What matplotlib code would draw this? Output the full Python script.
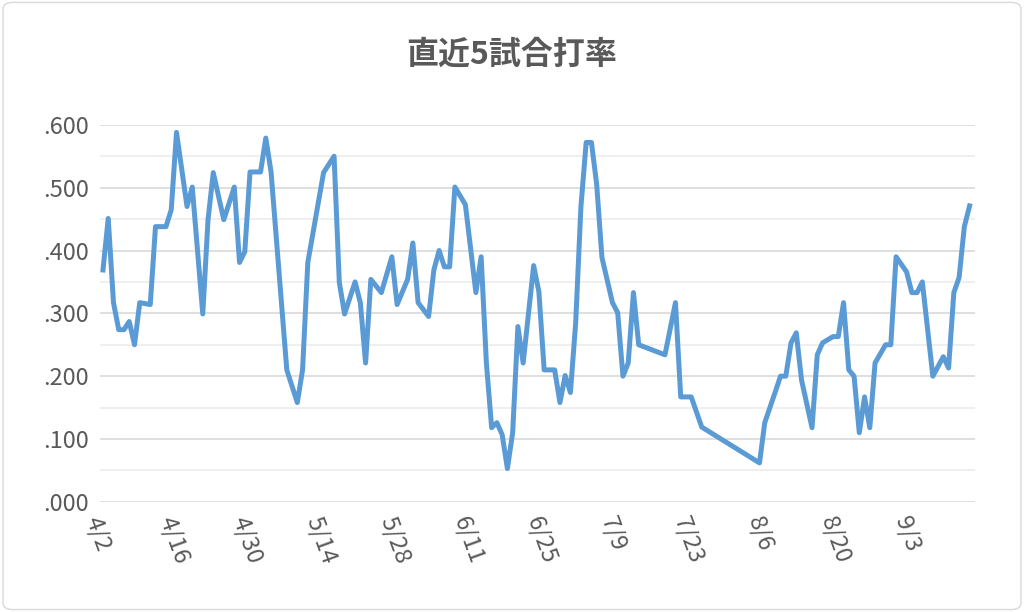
import matplotlib
matplotlib.use("Agg")
import matplotlib.pyplot as plt
import pandas as pd
from matplotlib.patches import FancyBboxPatch

plt.rcParams['font.family'] = ['Noto Sans CJK JP', 'DejaVu Sans']

start = pd.Timestamp('2018-04-02')
day_offsets = [0,1,2,3,4,5,6,7,9,10,12,13,14,16,17,19,20,21,23,25,26,27,28,30,31,32,35,37,38,39,
               42,44,45,46,48,49,50,51,53,55,56,58,59,60,62,63,64,65,66,67,69,71,72,73,74,75,76,77,
               78,79,80,82,83,84,86,87,88,89,90,91,92,93,94,95,97,98,99,100,101,102,107,109,110,112,
               114,125,126,128,129,130,131,132,133,135,136,137,139,140,141,142,143,144,145,146,147,
               149,150,151,153,154,155,156,158,160,161,162,163,164,165]
avg = [.369,.451,.317,.274,.274,.287,.250,.317,.314,.438,.438,.465,.588,.470,.501,.299,.449,.524,.449,.501,
       .381,.398,.525,.525,.579,.525,.210,.158,.210,.381,
       .524,.550,.349,.299,.350,.317,.221,.354,.333,.390,.314,.354,.412,.317,.295,.369,.400,.374,.374,.501,
       .473,.333,.390,.221,.118,.126,.107,.053,
       .110,.279,.221,.376,.334,.210,.210,.158,.201,.174,.285,.470,.572,.572,.505,.389,.317,.301,.200,.221,
       .333,.250,.234,.317,.167,.167,
       .119,.062,.126,.175,.200,.200,.253,.269,.194,.118,.234,.253,.263,.263,.317,.210,.200,.110,.167,.118,.221,
       .250,.250,.390,.366,.333,.333,.350,.200,.231,.213,.333,.357,.438,.471]
dates = [start + pd.Timedelta(days=d) for d in day_offsets]
tick_dates = [start + pd.Timedelta(days=14*i) for i in range(12)]
tick_labels = [f"{d.month}/{d.day}" for d in tick_dates]
y_ticks = [0, 100, 200, 300, 400, 500, 600]

fig = plt.figure(figsize=(10.24, 6.12), dpi=100)
fig.patches.append(FancyBboxPatch((0.003, 0.004), 0.994, 0.992, boxstyle="round,pad=0,rounding_size=0.01",
                                  transform=fig.transFigure, fill=False, edgecolor='#d9d9d9', lw=1))
ax = fig.add_axes([0.098, 0.18, 0.854, 0.616])
ax.plot(dates, avg, color='#5b9bd5', lw=3.6, solid_joinstyle='round')
ax.set_ylim(0, 0.6)
ax.set_xlim(start - pd.Timedelta(days=0.5), start + pd.Timedelta(days=166))
ax.set_yticks([v/1000 for v in y_ticks])
ax.set_yticklabels([f".{v:03d}" for v in y_ticks])
for i in range(13):
    ax.axhline(i*0.05, color='#d9d9d9' if i % 2 == 0 else '#ececec', lw=1.2, zorder=0)
ax.set_xticks(tick_dates)
ax.set_xticklabels(tick_labels, rotation=-70, ha='left', va='top', rotation_mode='anchor')
ax.tick_params(axis='both', length=0, labelsize=17, colors='#595959', pad=8)
for s in ax.spines.values():
    s.set_visible(False)
fig.text(0.5, 0.91, "直近5試合打率", ha='center', va='center', fontsize=23, color='#595959', fontweight='bold')
fig.savefig("out.png", dpi=100)
